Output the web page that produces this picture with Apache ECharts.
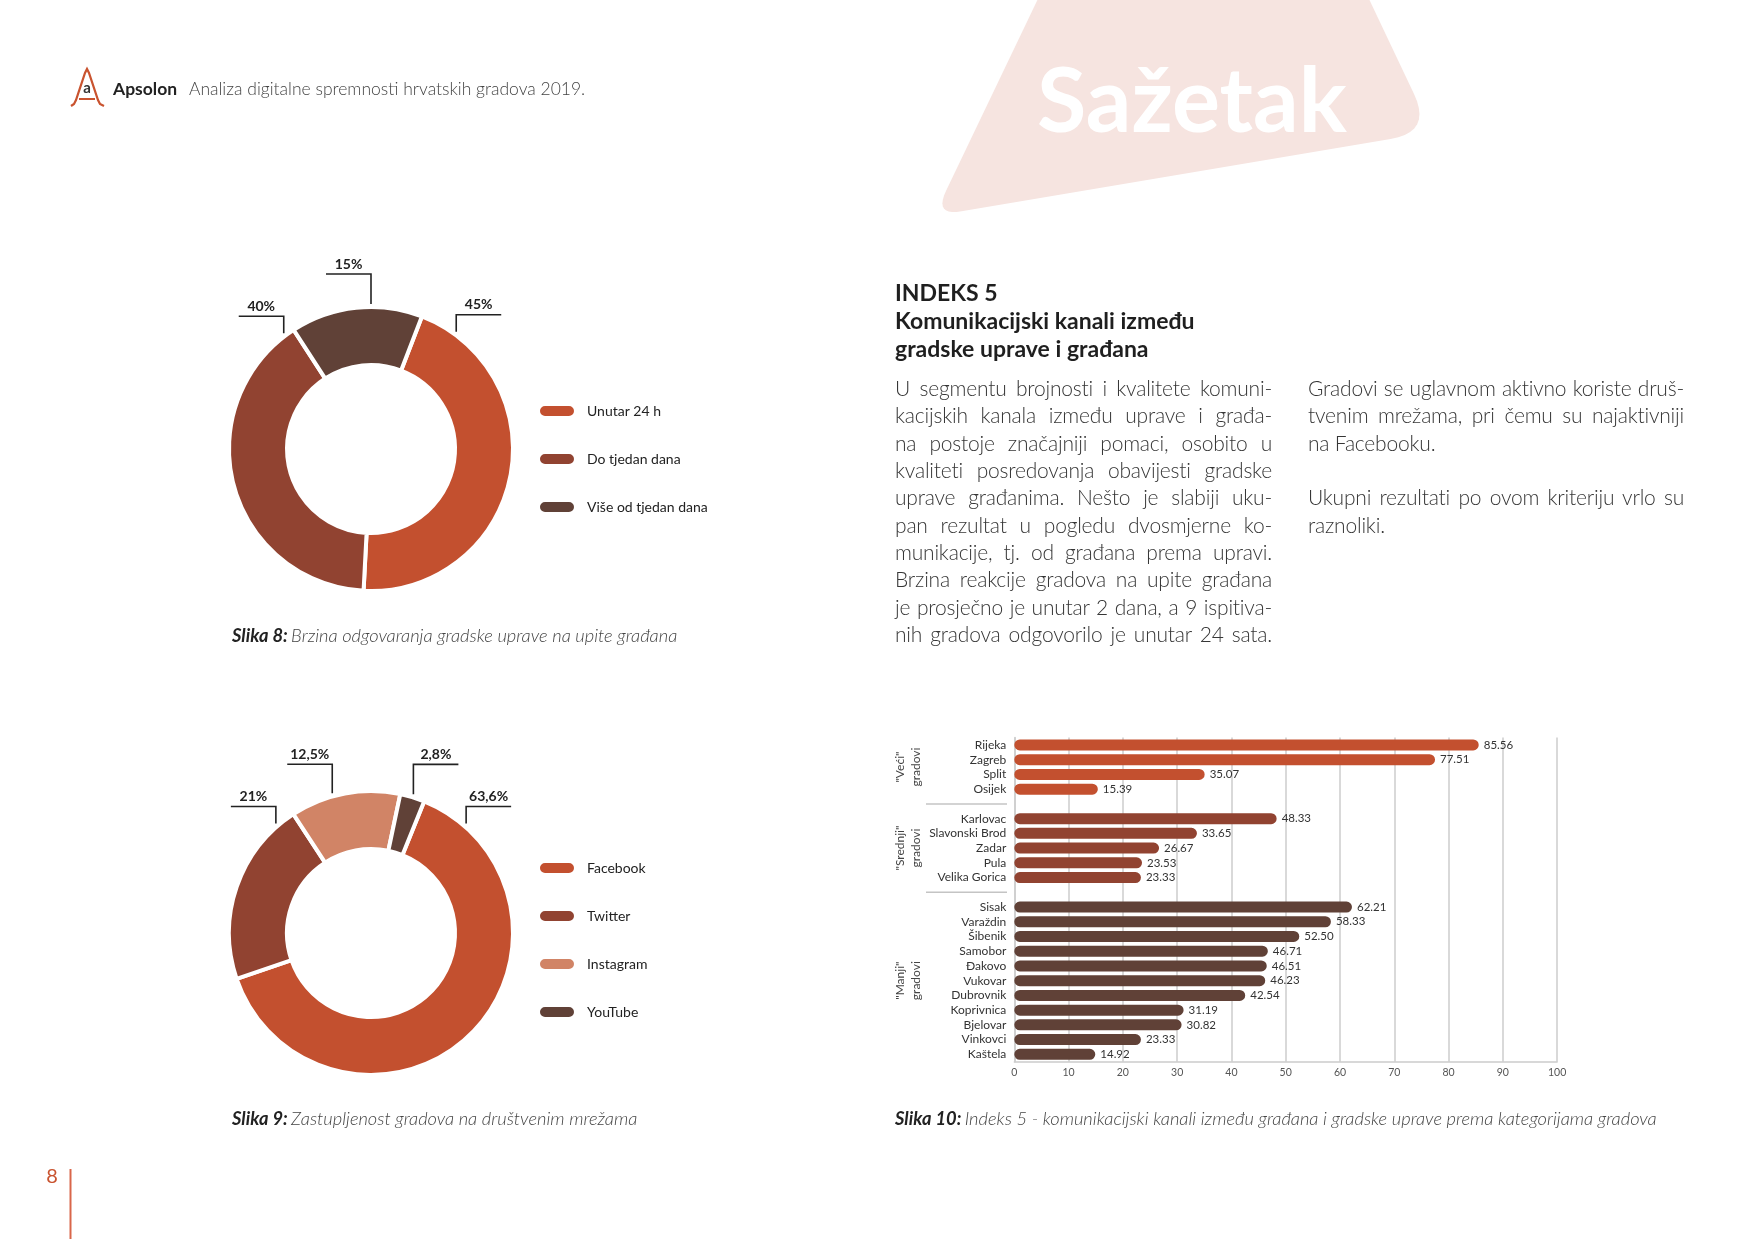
<!DOCTYPE html>
<html>
<head>
<meta charset="utf-8">
<script src="https://cdn.jsdelivr.net/npm/echarts@6.0.0/dist/echarts.min.js"></script>
<style>
html,body{margin:0;padding:0;background:#fff;}
#page{position:relative;width:1753px;height:1239px;overflow:hidden;background:#fff;}
#chart{position:absolute;left:0;top:0;width:1753px;height:1239px;}
.ln{position:absolute;white-space:nowrap;font-family:Lato,'Open Sans',sans-serif;}
.body{font-size:21px;font-weight:300;color:#363636;height:28px;line-height:28px;letter-spacing:-0.2px;text-align:justify;text-align-last:justify;}
.body.l{text-align-last:left;}
.ttl{font-size:23px;font-weight:700;color:#1f1f1f;height:28px;line-height:28px;}
</style>
</head>
<body>
<div id="page">
  <div id="chart"></div>
  <div id="text"></div>
</div>
<script>
// ---------------- data ----------------
const pie1Names = ['Unutar 24 h', 'Do tjedan dana', 'Više od tjedan dana'];
const pie1Values = [45, 40, 15];
const pie2Names = ['Facebook', 'Twitter', 'Instagram', 'YouTube'];
const pie2Values = [63.6, 21, 12.5, 2.8];

const largeCities = ['Rijeka', 'Zagreb', 'Split', 'Osijek'];
const largeScores = [85.56, 77.51, 35.07, 15.39];
const mediumCities = ['Karlovac', 'Slavonski Brod', 'Zadar', 'Pula', 'Velika Gorica'];
const mediumScores = [48.33, 33.65, 26.67, 23.53, 23.33];
const smallCities = ['Sisak', 'Varaždin', 'Šibenik', 'Samobor', 'Đakovo', 'Vukovar', 'Dubrovnik', 'Koprivnica', 'Bjelovar', 'Vinkovci', 'Kaštela'];
const smallScores = [62.21, 58.33, 52.50, 46.71, 46.51, 46.23, 42.54, 31.19, 30.82, 23.33, 14.92];
const groupLabels = ['"Veći"\ngradovi', '"Srednji"\ngradovi', '"Manji"\ngradovi'];
const xTicks = [0, 100, 10]; // min, max, interval

const titleLines = ['INDEKS 5', 'Komunikacijski kanali između', 'gradske uprave i građana'];
const col1Lines = [
  'U segmentu brojnosti i kvalitete komuni-',
  'kacijskih kanala između uprave i građa-',
  'na postoje značajniji pomaci, osobito u',
  'kvaliteti posredovanja obavijesti gradske',
  'uprave građanima. Nešto je slabiji uku-',
  'pan rezultat u pogledu dvosmjerne ko-',
  'munikacije, tj. od građana prema upravi.',
  'Brzina reakcije gradova na upite građana',
  'je prosječno je unutar 2 dana, a 9 ispitiva-',
  'nih gradova odgovorilo je unutar 24 sata.'
];
const col2Lines = [
  'Gradovi se uglavnom aktivno koriste druš-',
  'tvenim mrežama, pri čemu su najaktivniji',
  'na Facebooku.',
  '',
  'Ukupni rezultati po ovom kriteriju vrlo su',
  'raznoliki.'
];
const col2Justified = [true, true, false, false, true, false];

// ---------------- styles ----------------
const C_ORANGE = '#c3502f', C_RUST = '#914331', C_BROWN = '#604137', C_SALMON = '#d18466';
const pie1Colors = [C_ORANGE, C_RUST, C_BROWN];
const pie2Colors = [C_ORANGE, C_RUST, C_SALMON, C_BROWN];
const FONT = 'Lato, "Open Sans", sans-serif';
const pie1Center = [371, 449], pie2Center = [371, 933], pieRadius = [84, 142];
const pie1Callouts = [{angle: 36, rise: 17, dir: 1}, {angle: -37, rise: 17, dir: -1}, {angle: 0, rise: 30, dir: -1}];
const pie2Callouts = [{angle: 41, rise: 17, dir: 1}, {angle: -41, rise: 17, dir: -1}, {angle: -15.5, rise: 29, dir: -1}, {angle: 17, rise: 30, dir: 1}];

// ---------------- text (html) ----------------
const textHost = document.getElementById('text');
function addLine(cls, txt, left, centerY, width) {
  const d = document.createElement('div');
  d.className = 'ln ' + cls;
  d.style.left = left + 'px';
  d.style.top = (centerY - 14) + 'px';
  if (width) d.style.width = width + 'px';
  d.textContent = txt;
  textHost.appendChild(d);
}
titleLines.forEach((t, i) => addLine('ttl', t, 895, 292 + 28 * i));
col1Lines.forEach((t, i) => addLine('body', t, 895, 388 + 27.34 * i, 377));
col2Lines.forEach((t, i) => { if (t) addLine(col2Justified[i] ? 'body' : 'body l', t, 1308, 388 + 27.34 * i, 376); });

// ---------------- helpers ----------------
function roundedPoly(verts, radii, steps) {
  const pts = [];
  const n = verts.length;
  for (let i = 0; i < n; i++) {
    const p = verts[i], prev = verts[(i + n - 1) % n], next = verts[(i + 1) % n];
    const r = radii[i];
    if (!r) { pts.push(p); continue; }
    const d1 = Math.hypot(prev[0] - p[0], prev[1] - p[1]);
    const d2 = Math.hypot(next[0] - p[0], next[1] - p[1]);
    const a = [p[0] + (prev[0] - p[0]) * r / d1, p[1] + (prev[1] - p[1]) * r / d1];
    const b = [p[0] + (next[0] - p[0]) * r / d2, p[1] + (next[1] - p[1]) * r / d2];
    for (let s = 0; s <= steps; s++) {
      const t = s / steps;
      pts.push([(1 - t) * (1 - t) * a[0] + 2 * (1 - t) * t * p[0] + t * t * b[0],
                (1 - t) * (1 - t) * a[1] + 2 * (1 - t) * t * p[1] + t * t * b[1]]);
    }
  }
  return pts;
}

// ---------------- chart ----------------
const chart = echarts.init(document.getElementById('chart'), null, {renderer: 'canvas'});

function fmtPct(v) { return String(v).replace('.', ',') + '%'; }
function makeLayout(center, rA, callouts) {
  return function (params) {
    const c = callouts[params.dataIndex];
    const a = c.angle * Math.PI / 180;
    const x0 = center[0] + rA * Math.sin(a), y0 = center[1] - rA * Math.cos(a);
    const y1 = y0 - c.rise;
    const x2 = x0 + c.dir * 45;
    return {x: (x0 + x2) / 2, y: y1 - 3, align: 'center', verticalAlign: 'bottom',
      labelLinePoints: [[x0, y0], [x0, y1], [x2, y1]]};
  };
}
function pieSeries(names, values, colors, center, startAngle, callouts) {
  return {
    type: 'pie', center: center, radius: pieRadius, startAngle: startAngle, clockwise: true,
    avoidLabelOverlap: false, silent: true, animation: false,
    itemStyle: {borderColor: '#fff', borderWidth: 4},
    emphasis: {disabled: true},
    label: {show: true, position: 'outside', formatter: p => fmtPct(p.value),
      fontFamily: FONT, fontWeight: 'bold', fontSize: 14, color: '#222'},
    labelLine: {show: true, smooth: false, lineStyle: {color: '#222', width: 1.6}},
    labelLayout: makeLayout(center, pieRadius[1] + 3, callouts),
    data: names.map((n, i) => ({name: n, value: values[i], itemStyle: {color: colors[i]}}))
  };
}

const cats = [].concat(largeCities, [' '], mediumCities, ['  '], smallCities);
const offs = [0, largeCities.length + 1, largeCities.length + mediumCities.length + 2];
function barData(scores, off) {
  const arr = cats.map(() => null);
  scores.forEach((v, i) => { arr[off + i] = v; });
  return arr;
}
function barSeries(scores, off, color) {
  return {
    type: 'bar', data: barData(scores, off), barWidth: 11, barGap: '-100%', silent: true, animation: false,
    itemStyle: {color: color, borderRadius: 5.5},
    label: {show: true, position: 'right', distance: 5, formatter: p => p.value.toFixed(2),
      fontFamily: FONT, fontSize: 11.5, color: '#333'}
  };
}

const pill = 'path://M6,0H30A6,6,0,0,1,30,12H6A6,6,0,0,1,6,0Z';
const legendBase = {
  orient: 'vertical', left: 538, padding: 0, itemWidth: 36, itemHeight: 12, itemGap: 32, icon: pill, selectedMode: false,
  textStyle: {fontFamily: FONT, fontSize: 14, color: '#222', lineHeight: 16, padding: [0, 0, 0, 7]}
};

const captionRich = {
  b: {fontFamily: FONT, fontStyle: 'italic', fontWeight: 'bold', fontSize: 18.3, fill: '#222'},
  n: {fontFamily: FONT, fontStyle: 'italic', fontWeight: 300, fontSize: 18.3, fill: '#444'}
};
function caption(id, x, y, label, txt) {
  return {type: 'text', id: id, x: x, y: y, silent: true,
    style: {text: '{b|' + label + '} {n|' + txt + '}', rich: captionRich, verticalAlign: 'middle', align: 'left'}};
}

const pinkPts = roundedPoly([[1047, -20], [1360, -20], [1432, 132], [934, 216]], [0, 0, 42, 28], 10);

const staticGraphics = [
  {type: 'polygon', id: 'pinkShape', z: -10, silent: true,
    shape: {points: pinkPts}, style: {fill: '#f6e4e0'}},
  {type: 'text', id: 'sazetak', x: 1037, y: 103, silent: true,
    style: {text: 'Sažetak', font: 'bold 90px ' + FONT, fill: '#ffffff', verticalAlign: 'middle'}},
  {type: 'polyline', id: 'logoA', silent: true,
    shape: {points: [[71, 106], [74, 104], [76, 100], [85, 73], [87, 69], [89, 73], [98, 100], [100, 104], [104, 106]]},
    style: {fill: null, stroke: '#c9532f', lineWidth: 2.2}},
  {type: 'line', id: 'logoBar', silent: true, shape: {x1: 79, y1: 99, x2: 95, y2: 99},
    style: {stroke: '#c9532f', lineWidth: 2}},
  {type: 'text', id: 'logoa', x: 87, y: 88, silent: true,
    style: {text: 'a', font: 'bold 15px ' + FONT, fill: '#333', align: 'center', verticalAlign: 'middle'}},
  {type: 'text', id: 'brand', x: 113, y: 89, silent: true,
    style: {text: 'Apsolon', font: 'bold 17.5px ' + FONT, fill: '#222', verticalAlign: 'middle'}},
  {type: 'text', id: 'header', x: 189, y: 89, silent: true,
    style: {text: 'Analiza digitalne spremnosti hrvatskih gradova 2019.', font: '300 17.5px ' + FONT, fill: '#444', verticalAlign: 'middle'}},
  caption('cap8', 232, 636, 'Slika 8:', 'Brzina odgovaranja gradske uprave na upite građana'),
  caption('cap9', 232, 1119, 'Slika 9:', 'Zastupljenost gradova na društvenim mrežama'),
  caption('cap10', 895, 1119, 'Slika 10:', 'Indeks 5 - komunikacijski kanali između građana i gradske uprave prema kategorijama gradova'),
  {type: 'text', id: 'pageNo', x: 52, y: 1177, silent: true,
    style: {text: '8', font: '20px ' + FONT, fill: '#c9532f', align: 'center', verticalAlign: 'middle'}},
  {type: 'line', id: 'pageLine', silent: true, shape: {x1: 70.5, y1: 1169, x2: 70.5, y2: 1239},
    style: {stroke: '#d9664a', lineWidth: 2}}
];

const option = {
  animation: false,
  backgroundColor: '#fff',
  legend: [
    Object.assign({}, legendBase, {data: pie1Names, top: 403}),
    Object.assign({}, legendBase, {data: pie2Names, top: 860})
  ],
  grid: {left: 1014.3, top: 737.6, width: 542.8, height: 324.1},
  xAxis: {
    type: 'value', min: xTicks[0], max: xTicks[1], interval: xTicks[2],
    axisLine: {show: true, lineStyle: {color: '#cccccc', width: 1.5}},
    axisTick: {show: false},
    splitLine: {show: true, lineStyle: {color: '#cccccc', width: 1.5}},
    axisLabel: {color: '#555', fontSize: 10.5, margin: 5, fontFamily: FONT}
  },
  yAxis: {
    type: 'category', inverse: true, data: cats,
    axisLine: {show: true, lineStyle: {color: '#cccccc', width: 1.5}},
    axisTick: {show: false},
    splitLine: {show: false},
    axisLabel: {color: '#333', fontSize: 12, margin: 8, fontFamily: FONT, interval: 0}
  },
  series: [
    pieSeries(pie1Names, pie1Values, pie1Colors, pie1Center, 69, pie1Callouts),
    pieSeries(pie2Names, pie2Values, pie2Colors, pie2Center, 68, pie2Callouts),
    barSeries(largeScores, offs[0], C_ORANGE),
    barSeries(mediumScores, offs[1], C_RUST),
    barSeries(smallScores, offs[2], C_BROWN)
  ],
  graphic: {elements: staticGraphics}
};
chart.setOption(option);

// group labels and separators placed through the category axis
const groups = [[offs[0], largeCities.length], [offs[1], mediumCities.length], [offs[2], smallCities.length]];
const extra = [];
groups.forEach((g, gi) => {
  const yA = chart.convertToPixel({gridIndex: 0}, [0, g[0]])[1];
  const yB = chart.convertToPixel({gridIndex: 0}, [0, g[0] + g[1] - 1])[1];
  extra.push({type: 'text', id: 'grp' + gi, x: 908, y: (yA + yB) / 2, rotation: Math.PI / 2, silent: true,
    style: {text: groupLabels[gi], font: '12px ' + FONT, fill: '#444', align: 'center', verticalAlign: 'middle', lineHeight: 16}});
  if (gi > 0) {
    const ys = chart.convertToPixel({gridIndex: 0}, [0, g[0] - 1])[1];
    extra.push({type: 'line', id: 'sep' + gi, silent: true, shape: {x1: 926, y1: ys, x2: 1007, y2: ys},
      style: {stroke: '#c4c4c4', lineWidth: 1.5}});
  }
});
chart.setOption({graphic: {elements: extra}});
</script>
</body>
</html>
